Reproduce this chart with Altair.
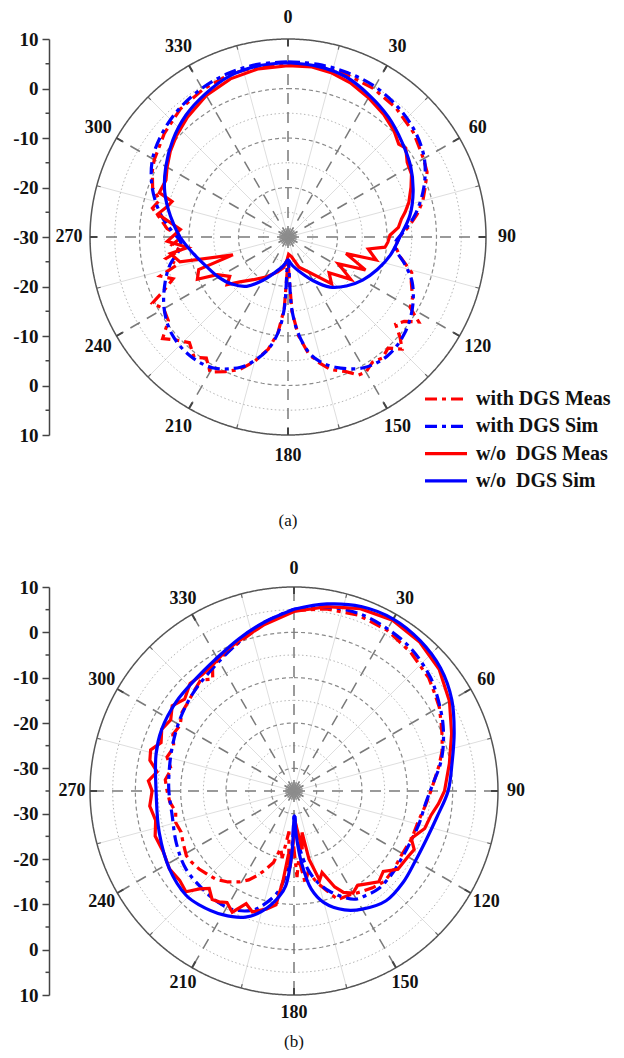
import altair as alt
import numpy as np
import pandas as pd

FONT = "Liberation Serif"
RED = "#ff0000"
BLUE = "#0000ff"
DASHDOT = [12, 5, 4, 5]

SERIES = ["with DGS Meas", "with DGS Sim", "w/o\u00a0 DGS Meas", "w/o\u00a0 DGS Sim"]
ANGLE_TICKS = list(range(0, 360, 30))

# ---------------- panel (a) ----------------
A_ANG_WO_SIM = [0, 10, 20, 30, 40, 50, 60, 70, 80, 90, 100, 110, 120, 130, 140, 150, 160, 170, 175, 180,
                185, 190, 200, 210, 220, 230, 240, 250, 260, 270, 280, 290, 300, 310, 320, 330, 340, 350, 360]
A_WO_SIM = [5.2, 5.0, 4.4, 3.0, 1.6, 0.0, -1.4, -3.1, -5.0, -7.4, -9.0, -10.8, -12.6, -14.6, -16.8, -19.8,
            -22.3, -24.0, -24.8, -25.4, -24.8, -24.0, -22.4, -19.9, -17.0, -15.2, -13.8, -12.5, -10.6, -8.2,
            -5.9, -3.5, -1.5, 0.4, 2.1, 3.4, 4.6, 5.1, 5.2]

A_ANG_WO_MEAS = [0, 8, 15, 22, 30, 38, 45, 50, 53, 58, 63, 68, 74, 78, 81, 85, 89, 93, 96, 98.5,
                 104.6, 106, 113, 118, 124, 131, 137, 142, 150, 160, 170, 178, 182, 188, 196, 208, 219, 227, 232, 236,
                 242, 245, 250, 252, 257, 262, 264, 268, 274, 280, 284, 287, 289, 295, 300, 306, 312, 320, 330, 340,
                 350, 360]
A_WO_MEAS = [4.6, 4.7, 4.3, 3.6, 2.5, 1.4, 0.3, -0.8, -0.2, -1.6, -2.0, -3.2, -4.6, -5.8, -6.8, -7.6, -9.4, -9.8,
             -10.3, -13.6, -11.6, -17.8, -13.0, -18.5, -14.7, -19.0, -17.1, -19.6, -21.9, -23.5, -26.0, -26.5,
             -25.5, -23.8, -22.7, -20.9, -18.9, -16.7, -14.4, -15.8, -13.8, -9.8, -10.8, -18.3, -7.6, -6.0, -9.6,
             -5.6, -8.2, -3.3, -4.8, -5.5, -2.5, -2.8, -1.8, -0.6, 0.4, 1.6, 3.0, 4.0, 4.5, 4.6]

A_ANG_W_SIM = [0, 10, 20, 30, 40, 50, 60, 70, 80, 87, 93, 97, 103, 110, 120, 130, 140, 150, 160, 166, 170, 174,
               177, 180, 183, 186, 190, 195, 200, 210, 220, 230, 240, 250, 257, 263, 267, 273, 280, 290, 300, 310,
               320, 330, 340, 350, 360]
A_W_SIM = [5.4, 5.4, 5.3, 5.1, 4.4, 3.4, 1.8, -0.8, -3.9, -6.5, -8.3, -8.0, -5.8, -3.3, -1.0, 0.6, 1.3, 0.5, -2.0,
           -4.2, -6.5, -10.5, -15.5, -25.4, -15.5, -10.5, -7.0, -4.2, -2.0, 0.5, 1.1, 0.6, -1.1, -3.6, -5.6, -7.8,
           -8.3, -6.5, -3.9, -0.8, 1.6, 3.0, 4.0, 4.7, 5.2, 5.4, 5.4]

A_ANG_W_MEAS = [0, 10, 20, 30, 40, 50, 55, 60, 65, 70, 75, 80, 85, 90, 95, 100, 106, 110, 116, 120,
                123, 126, 129, 132, 134.5, 138, 142, 146, 150, 153, 157, 162, 166, 170, 174, 177, 180, 183, 186, 190,
                195, 200, 205, 210, 214, 218, 223, 228, 231, 235, 240, 244, 247, 250, 253, 256, 260, 263, 266, 270,
                274, 278, 282, 286, 290, 296, 300, 310, 320, 330, 340, 350, 360]
A_W_MEAS = [5.0, 5.1, 4.9, 4.6, 4.0, 3.0, 2.2, 1.6, 1.0, -0.5, -1.8, -3.5, -5.5, -7.5, -8.2, -7.0, -4.0, -3.5,
            -2.0, -1.5, 1.5, -1.0, -2.0, 0.5, 2.3, 0.2, 1.0, 0.5, 1.5, 1.3, -0.5, -1.8, -3.8, -6.0, -10.0, -15.0,
            -25.0, -15.5, -10.5, -7.0, -4.0, -1.5, 0.0, 1.5, -0.5, 0.8, -0.8, 1.0, 2.6, -0.5, -1.0, 0.5, -3.0,
            -5.3, -3.0, -7.0, -5.0, -8.0, -6.5, -8.5, -5.5, -4.0, -2.0, -3.0, -0.9, 0.5, 1.2, 2.6, 3.8, 4.4, 4.9,
            5.0, 5.0]

# ---------------- panel (b) ----------------
B_ANG_WO_SIM = [0, 10, 20, 30, 40, 50, 60, 70, 80, 90, 100, 110, 120, 130, 140, 150, 157, 165, 170, 174,
                177, 179, 182, 185, 188, 195, 201, 210, 220, 226, 238, 253, 268, 285, 295, 307, 319, 329, 340, 350,
                360]
B_WO_SIM = [5.1, 6.9, 8.3, 8.8, 8.3, 7.2, 5.2, 2.6, 0.4, -1.0, -2.9, -3.9, -4.1, -3.6, -3.4, -4.9, -6.5, -9.5,
            -13.0, -19.0, -25.0, -29.5, -21.0, -14.0, -11.5, -7.5, -5.2, -3.5, -2.3, -1.9, -2.6, -3.9, -4.6, -3.5,
            -2.8, -2.4, -2.1, -1.2, 0.7, 2.8, 5.1]

B_ANG_WO_MEAS = [0, 10, 20, 30, 40, 50, 60, 70, 80, 90, 95, 100, 106, 112, 116, 120, 127, 132, 137, 142,
                 146, 150, 154, 157, 161, 164, 167.6, 169, 172, 176, 180, 183, 185, 187, 189, 193, 199, 203, 207, 211,
                 214, 217, 221, 224, 227, 232, 238, 245, 252, 258, 264, 270, 274, 278, 282, 286, 290, 295, 300, 305,
                 310, 316, 322, 328, 334, 340, 350, 360]
B_WO_MEAS = [4.6, 6.3, 7.8, 8.5, 8.0, 6.8, 4.6, 2.0, -0.2, -1.8, -3.0, -4.3, -5.0, -7.1, -5.5, -6.0, -6.3, -8.5,
             -7.6, -9.0, -9.9, -9.0, -10.1, -12.0, -16.0, -14.5, -19.6, -25.7, -22.0, -27.0, -25.0, -18.0, -21.0,
             -15.0, -9.6, -8.3, -6.8, -8.0, -5.0, -6.3, -5.5, -5.0, -6.5, -5.0, -2.4, -3.0, -2.6, -3.2, -2.8, -3.8,
             -3.0, -3.7, -2.8, -4.5, -2.5, -2.1, -3.8, -2.8, -3.6, -2.2, -3.5, -2.0, -2.3, -1.8, -0.6, 0.3, 2.3, 4.6]

B_ANG_W_SIM = [0, 10, 20, 30, 40, 50, 55, 65, 74, 80, 87, 95, 105, 115, 122, 130, 139, 145, 151, 160,
               166, 170, 174, 177, 179, 182, 185, 189, 195, 199, 207, 214, 221, 234, 246, 259, 270, 277, 289, 301,
               313, 326, 340, 350, 360]
B_W_SIM = [5.1, 6.2, 6.7, 6.3, 5.6, 4.2, 3.2, 1.2, -0.8, -2.3, -4.3, -5.8, -6.5, -7.0, -7.0, -6.7, -6.5, -7.0,
           -7.7, -11.3, -14.5, -17.5, -22.0, -27.0, -30.0, -23.0, -17.0, -12.5, -9.0, -7.2, -5.6, -5.3, -5.4, -5.6,
           -6.6, -7.6, -7.4, -7.2, -6.5, -5.4, -4.1, -2.6, 0.1, 2.8, 5.1]

B_ANG_W_MEAS = [0, 10, 20, 30, 40, 50, 55, 60, 65, 70, 75, 80, 85, 90, 96, 104, 112, 121, 128, 135,
                141, 146.4, 152, 158, 162, 166, 170, 173, 176, 178, 181, 184, 187, 190, 193, 196, 200, 203, 207, 211,
                216, 221.5, 226, 230.6, 235, 239, 245, 250, 255, 260, 265, 270, 275, 280, 285, 290, 295, 300, 305, 310,
                315, 320, 324, 327, 333, 340, 350, 360]
B_W_MEAS = [4.8, 5.8, 6.3, 6.0, 5.0, 3.8, 2.8, 2.0, 0.8, -0.2, -1.2, -2.5, -3.8, -4.8, -5.8, -6.8, -7.0, -7.4,
            -7.0, -6.8, -7.5, -8.3, -9.0, -9.2, -12.0, -14.2, -17.0, -14.5, -20.0, -16.0, -24.0, -18.0, -26.0,
            -20.0, -22.0, -18.6, -16.5, -14.9, -13.0, -11.6, -10.2, -9.0, -8.5, -7.9, -7.5, -7.3, -8.0, -8.5, -8.0,
            -8.5, -7.5, -7.0, -6.5, -7.5, -6.0, -6.8, -5.5, -6.0, -4.8, -4.5, -3.8, -3.0, -4.5, -2.0, -1.2, 0.0,
            2.5, 4.8]


def curve_df(ang, val):
    assert len(ang) == len(val), (len(ang), len(val))
    return pd.DataFrame({"ang": ang, "db": val, "idx": np.arange(len(ang))})


def make_panel(R, size, rmin, curves, caption, cap_y, label_px, legend):
    k = size / (2.0 * R)
    xs = alt.Scale(domain=[-R, R], nice=False, zero=False)
    ys = alt.Scale(domain=[-R, R], nice=False, zero=False)
    yaxis = alt.Axis(values=list(range(-R, R + 1, 10)),
                     labelExpr=f"'' + (abs(datum.value) - {-rmin})",
                     offset=41, grid=False, title=None, domainColor="#444", domainWidth=1.5,
                     tickColor="#444", tickWidth=1.5, tickSize=7, labelFont=FONT, labelFontWeight="bold",
                     labelFontSize=19, labelColor="#111", labelPadding=4, labelOverlap=False,
                     labelFlush=False, labelBound=False)

    def X(f):
        return alt.X(f, type="quantitative", scale=xs, axis=None)

    def Y(f):
        return alt.Y(f, type="quantitative", scale=ys, axis=yaxis)

    def xy(ch, r="rr", a="ang", xn="x", yn="y"):
        return ch.transform_calculate(**{
            xn: f"datum.{r} * sin(datum.{a} * PI / 180)",
            yn: f"datum.{r} * cos(datum.{a} * PI / 180)",
        })

    def circles(levels, color, width, dash):
        rows = []
        for lv in levels:
            for i, a in enumerate(range(0, 361, 2)):
                rows.append({"lv": lv, "ang": a, "idx": i})
        df = pd.DataFrame(rows)
        ch = xy(alt.Chart(df).transform_calculate(rr=f"datum.lv - ({rmin})"))
        return ch.mark_line(color=color, strokeWidth=width, strokeDash=dash).encode(
            x=X("x"), y=Y("y"), detail="lv:N", order="idx:Q")

    def spokes(angles, r0, r1, color, width, dash=None):
        df = pd.DataFrame({"ang": angles})
        ch = alt.Chart(df).transform_calculate(r0=str(r0), r1=str(r1))
        ch = xy(ch, r="r0", xn="x0", yn="y0")
        ch = xy(ch, r="r1", xn="x1", yn="y1")
        kw = dict(color=color, strokeWidth=width)
        if dash:
            kw["strokeDash"] = dash
        return ch.mark_rule(**kw).encode(x=X("x0"), y=Y("y0"), x2=alt.X2("x1"), y2=alt.Y2("y1"))

    rmax = R + rmin
    majors = [v for v in range(rmin + 1, rmax) if v % 10 == 0]
    minors = [v for v in range(rmin + 1, rmax) if v % 10 != 0 and v % 5 == 0]
    fifteen = list(range(15, 360, 30))

    layers = [
        spokes(fifteen, 0, R, "#dedede", 1),
        circles(minors, "#b5b5b5", 1, [1.5, 2.5]),
        circles(majors, "#8a8a8a", 1.2, [4, 3]),
        spokes(ANGLE_TICKS, 0, R, "#7a7a7a", 1.5, [11, 8]),
        circles([rmax], "#555555", 1.5, [1, 0]),
        spokes(ANGLE_TICKS, R - 7 / k, R, "#444444", 2),
        spokes(fifteen, R - 4 / k, R, "#666666", 1.2),
        spokes(list(range(0, 360, 15)), 0, 9 / k, "#8c8c8c", 1.5),
    ]

    for ang, val, color, dash, interp in curves:
        ch = xy(alt.Chart(curve_df(ang, val)).transform_calculate(rr=f"max(datum.db - ({rmin}), 0)"))
        mk = dict(color=color, strokeWidth=3.2, interpolate=interp, strokeCap="butt")
        if dash:
            mk["strokeDash"] = dash
        layers.append(ch.mark_line(**mk).encode(x=X("x"), y=Y("y"), order="idx:Q"))

    # minor ticks of the left axis
    minor = pd.DataFrame({"v": list(range(-R + 5, R, 10))})
    layers.append(alt.Chart(minor).mark_rule(color="#444", strokeWidth=1.5).encode(
        x=alt.value(-44.5), x2=alt.value(-41), y=Y("v")))

    # angle labels
    adf = pd.DataFrame({"ang": ANGLE_TICKS, "lab": [str(a) for a in ANGLE_TICKS]})
    ch = xy(alt.Chart(adf).transform_calculate(rr=str(label_px / k)))
    layers.append(ch.mark_text(font=FONT, fontWeight="bold", fontSize=18, color="#111",
                               align="center", baseline="middle").encode(x=X("x"), y=Y("y"), text="lab:N"))

    # caption
    layers.append(alt.Chart(pd.DataFrame({"c": [caption]})).mark_text(
        font=FONT, fontSize=17, color="#111", align="center", baseline="middle").encode(
        x=alt.value(size / 2), y=alt.value(cap_y), text="c:N"))

    if legend:
        styles = [(RED, DASHDOT), (BLUE, DASHDOT), (RED, None), (BLUE, None)]
        for i, (name, (color, dash)) in enumerate(zip(SERIES, styles)):
            yy = 360 + 27.3 * i
            kw = dict(color=color, strokeWidth=3.2, strokeCap="butt")
            if dash:
                kw["strokeDash"] = dash
            ldf = pd.DataFrame({"s": [name]})
            layers.append(alt.Chart(ldf).mark_rule(**kw).encode(
                x=alt.value(335), x2=alt.value(377), y=alt.value(yy)))
            layers.append(alt.Chart(ldf).mark_text(
                font=FONT, fontWeight="bold", fontSize=20, color="#111", align="left",
                baseline="middle").encode(x=alt.value(386), y=alt.value(yy), text="s:N"))

    return alt.layer(*layers).properties(width=size, height=size)


curves_a = [
    (A_ANG_W_MEAS, A_W_MEAS, RED, DASHDOT, "linear"),
    (A_ANG_W_SIM, A_W_SIM, BLUE, DASHDOT, "catmull-rom"),
    (A_ANG_WO_MEAS, A_WO_MEAS, RED, None, "linear"),
    (A_ANG_WO_SIM, A_WO_SIM, BLUE, None, "catmull-rom"),
]
curves_b = [
    (B_ANG_W_MEAS, B_W_MEAS, RED, DASHDOT, "linear"),
    (B_ANG_W_SIM, B_W_SIM, BLUE, DASHDOT, "catmull-rom"),
    (B_ANG_WO_MEAS, B_WO_MEAS, RED, None, "linear"),
    (B_ANG_WO_SIM, B_WO_SIM, BLUE, None, "catmull-rom"),
]

panel_a = make_panel(40, 396, -30, curves_a, "(a)", 482, 219, True)
panel_b = make_panel(45, 408, -35, curves_b, "(b)", 455, 222, False)

chart = alt.vconcat(panel_a, panel_b, spacing=30).resolve_scale(
    x="independent", y="independent"
).properties(
    padding={"left": 4, "top": 0, "right": 0, "bottom": 0}
).configure_view(stroke=None)

chart.save("out.html", embed_options={"renderer": "svg", "actions": False})
